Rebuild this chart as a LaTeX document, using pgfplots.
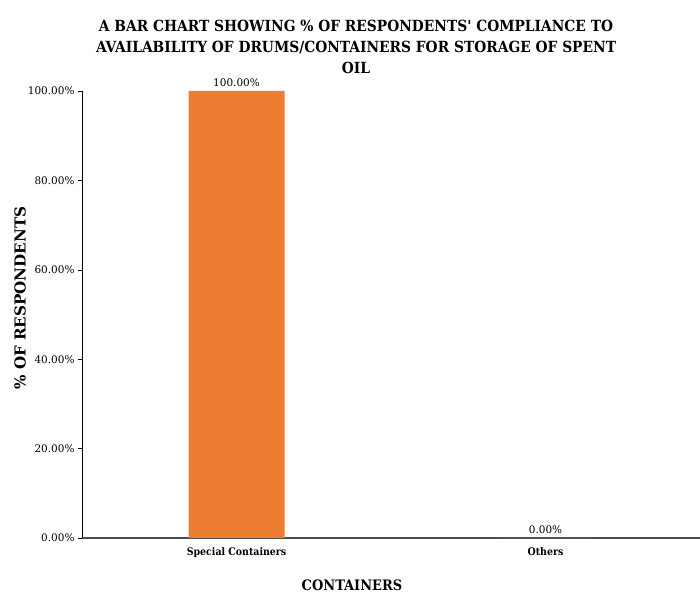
\documentclass[border=0pt]{standalone}
\usepackage{pgfplots}
\pgfplotsset{compat=1.18}
\usepackage{fontspec}
\setmainfont{DejaVu Serif}
\newfontfamily\condfont{DejaVu Serif Condensed}
\definecolor{barorange}{HTML}{ED7D31}
\begin{document}
\begin{tikzpicture}[x=1bp,y=1bp]
\path[use as bounding box] (0,0) rectangle (700,596);
\begin{axis}[
  at={(82bp,58bp)}, anchor=south west,
  scale only axis, width=618bp, height=447bp,
  xmin=-0.5, xmax=1.5, ymin=0, ymax=100,
  axis x line*=bottom, axis y line*=left,
  x axis line style={draw=black!70, line width=1.2pt, -},
  y axis line style={draw=black, line width=0.6pt, -},
  xtick={0,1}, xticklabels={\mbox{Special Containers}, \mbox{Others}},
  xtick style={draw=none},
  x tick label style={font=\condfont\bfseries\fontsize{10.5}{12}\selectfont, yshift=-2bp},
  ytick={0,20,40,60,80,100},
  yticklabels={\mbox{0.00\%},\mbox{20.00\%},\mbox{40.00\%},\mbox{60.00\%},\mbox{80.00\%},\mbox{100.00\%}},
  y tick label style={font=\fontsize{10.5}{12}\selectfont},
  ytick style={draw=black, line width=0.5pt},
  tick align=outside, major tick length=4bp,
  /pgf/number format/assume math mode=true,
  ybar, bar width=96bp,
  nodes near coords={\pgfmathprintnumber[fixed,fixed zerofill,precision=2,assume math mode=true]{\pgfplotspointmeta}\%},
  every node near coord/.append style={font=\fontsize{10.5}{12}\selectfont, black, yshift=1bp},
  clip=false,
]
\addplot[fill=barorange, draw=none] coordinates {(0,100) (1,0)};
\end{axis}
\node[font=\condfont\bfseries\fontsize{15.4}{21.5}\selectfont, align=center, anchor=center] at (356,549) {A BAR CHART SHOWING \% OF RESPONDENTS' COMPLIANCE TO\\AVAILABILITY OF DRUMS/CONTAINERS FOR STORAGE OF SPENT\\OIL};
\node[font=\bfseries\fontsize{15.2}{17}\selectfont, rotate=90] at (20,298) {\% OF RESPONDENTS};
\node[font=\condfont\bfseries\fontsize{14.5}{17}\selectfont] at (352,11) {CONTAINERS};
\end{tikzpicture}
\end{document}
